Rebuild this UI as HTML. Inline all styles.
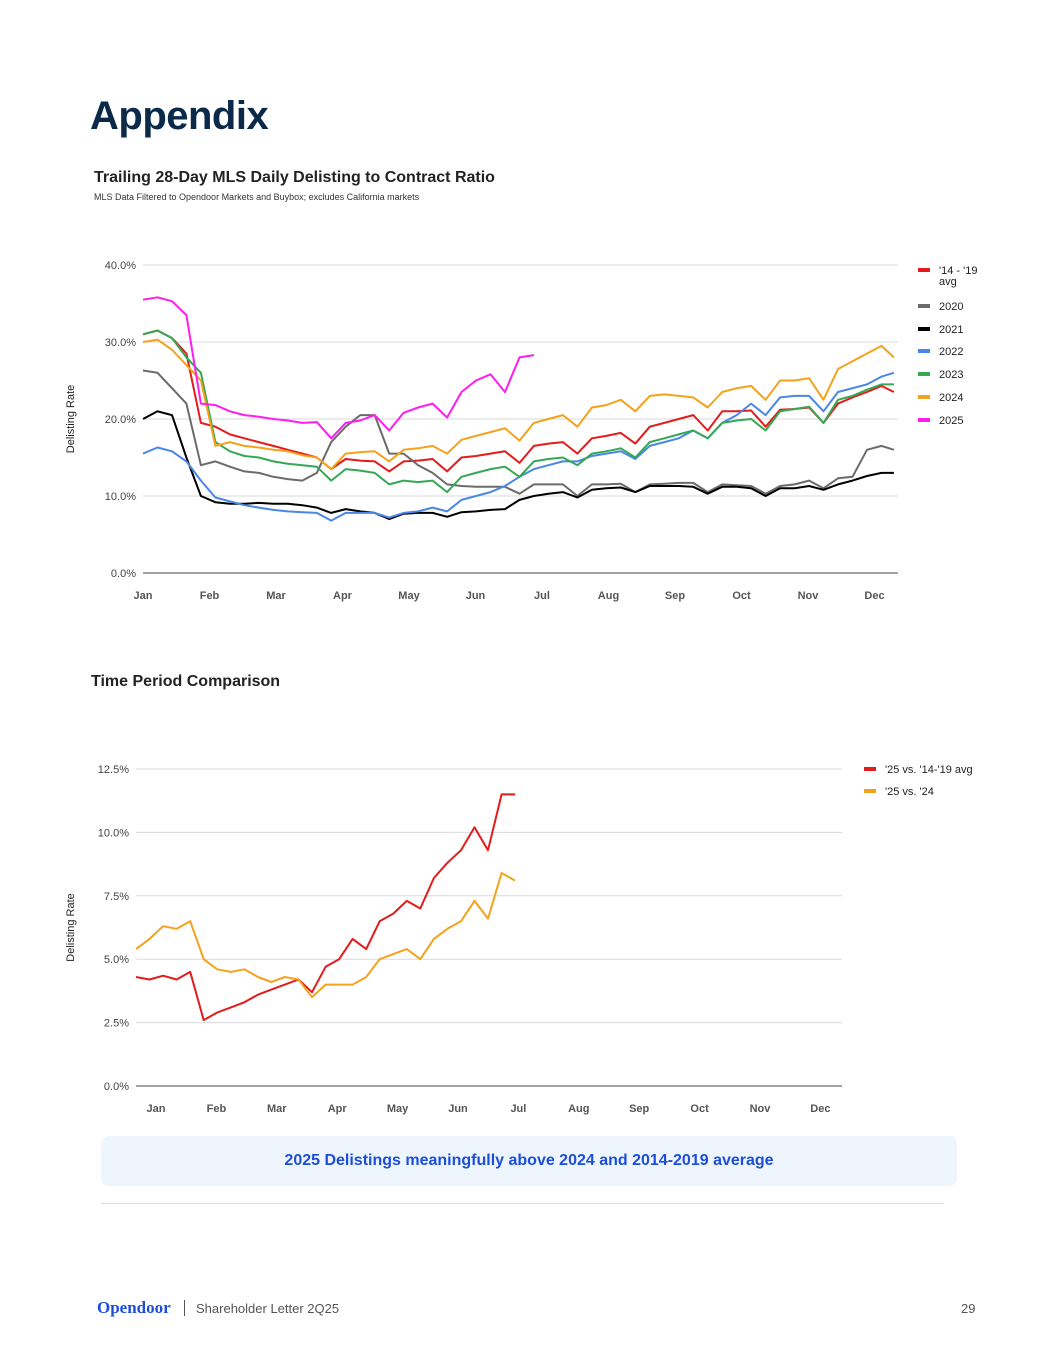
<!DOCTYPE html>
<html><head><meta charset="utf-8">
<style>
body{margin:0;background:#fff;font-family:"Liberation Sans",sans-serif;}
#page{position:relative;width:1055px;height:1365px;overflow:hidden;background:#fff;}
.abs{position:absolute;}
</style></head>
<body>
<div id="page">
<div class="abs" style="left:90px;top:94px;font-size:40px;font-weight:bold;color:#0b2a4a;letter-spacing:-0.5px;">Appendix</div>
<div class="abs" style="left:94px;top:169px;font-size:16px;font-weight:bold;color:#222;">Trailing 28-Day MLS Daily Delisting to Contract Ratio</div>
<div class="abs" style="left:94px;top:192px;font-size:9px;color:#333;">MLS Data Filtered to Opendoor Markets and Buybox; excludes California markets</div>
<div class="abs" style="left:91px;top:673px;font-size:16px;font-weight:bold;color:#222;">Time Period Comparison</div>
<svg id="c1" class="abs" style="left:0;top:0" width="1055" height="640"></svg>
<svg id="c2" class="abs" style="left:0;top:700px" width="1055" height="430"></svg>
<div class="abs" style="left:101px;top:1136px;width:856px;height:50px;background:#eef5fd;border-radius:8px;text-align:center;line-height:50px;font-size:16px;font-weight:bold;color:#1d4ed8;">2025 Delistings meaningfully above 2024 and 2014-2019 average</div>
<div class="abs" style="left:101px;top:1203px;width:843px;height:1px;background:#ddd;"></div>
<div class="abs" style="left:97px;top:1298px;font-family:'Liberation Serif',serif;font-weight:bold;font-size:17px;color:#1d4ed8;">Opendoor</div>
<div class="abs" style="left:184px;top:1300px;width:1px;height:16px;background:#555;"></div>
<div class="abs" style="left:196px;top:1301px;font-size:13px;color:#555;">Shareholder Letter 2Q25</div>
<div class="abs" style="left:961px;top:1301px;font-size:13px;color:#555;">29</div>
</div>
<script>
const months=["Jan","Feb","Mar","Apr","May","Jun","Jul","Aug","Sep","Oct","Nov","Dec"];
const c1Ticks=[0,10,20,30,40];
const c1Names=["'14 - '19 avg","2020","2021","2022","2023","2024","2025"];
const sAvg=[31,31.5,30.5,28.5,19.5,19,18,17.5,17,16.5,16,15.5,15,13.5,14.8,14.6,14.5,13.2,14.5,14.6,14.8,13.2,15,15.2,15.5,15.8,14.3,16.5,16.8,17,15.5,17.5,17.8,18.2,16.8,19,19.5,20,20.5,18.5,21,21,21.1,19,21.2,21.3,21.5,19.5,22,22.8,23.5,24.3,23.5];
const s2020=[26.3,26,24,22,14,14.5,13.8,13.2,13,12.5,12.2,12,13,17,19,20.5,20.5,15.5,15.5,14,13,11.5,11.3,11.2,11.2,11.2,10.3,11.5,11.5,11.5,10,11.5,11.5,11.6,10.5,11.5,11.6,11.7,11.7,10.5,11.5,11.4,11.3,10.3,11.3,11.5,12,11,12.3,12.5,16,16.5,16];
const s2021=[20,21,20.5,15,10,9.2,9,9,9.1,9,9,8.8,8.5,7.8,8.3,8,7.8,7,7.7,7.8,7.8,7.3,7.9,8,8.2,8.3,9.5,10,10.3,10.5,9.8,10.8,11,11.1,10.5,11.3,11.3,11.3,11.2,10.3,11.2,11.2,11,10,11,11,11.3,10.8,11.5,12,12.6,13,13];
const s2022=[15.5,16.3,15.8,14.5,12,9.8,9.3,8.8,8.5,8.2,8,7.9,7.8,6.8,7.8,7.8,7.8,7.2,7.8,8,8.5,8,9.5,10,10.5,11.3,12.5,13.5,14,14.5,14.5,15.2,15.5,15.8,14.8,16.5,17,17.5,18.5,17.5,19.5,20.5,22,20.5,22.8,23,23,21,23.5,24,24.5,25.5,26];
const s2023=[31,31.5,30.5,28,26,17,15.8,15.2,15,14.5,14.2,14,13.8,12,13.5,13.3,13,11.5,12,11.8,12,10.5,12.5,13,13.5,13.8,12.5,14.5,14.8,15,14,15.5,15.8,16.2,15,17,17.5,18,18.5,17.5,19.5,19.8,20,18.5,21,21.3,21.6,19.5,22.5,23,23.8,24.5,24.5];
const s2024=[30,30.3,29,27,25,16.5,17,16.5,16.3,16,15.8,15.3,15,13.5,15.5,15.7,15.8,14.5,16,16.2,16.5,15.5,17.3,17.8,18.3,18.8,17.2,19.5,20,20.5,19,21.5,21.8,22.5,21,23,23.2,23,22.8,21.5,23.5,24,24.3,22.5,25,25,25.3,22.5,26.5,27.5,28.5,29.5,28];
const s2025=[35.5,35.8,35.3,33.5,22,21.8,21,20.5,20.3,20,19.8,19.5,19.6,17.5,19.5,19.8,20.5,18.5,20.8,21.5,22,20.2,23.5,25,25.8,23.5,28,28.3];
const c1Series=[sAvg,s2020,s2021,s2022,s2023,s2024,s2025];
const c1Colors=["#e31b1b","#6b6b6b","#000000","#4a86e8","#34a853","#f4a21c","#ff1cf0"];
const c2Ticks=[0,2.5,5,7.5,10,12.5];
const c2TickLabels=["0.0%","2.5%","5.0%","7.5%","10.0%","12.5%"];
const c2Names=["'25 vs. '14-'19 avg","'25 vs. '24"];
const vsAvg=[4.3,4.2,4.35,4.2,4.5,2.6,2.9,3.1,3.3,3.6,3.8,4.0,4.2,3.7,4.7,5.0,5.8,5.4,6.5,6.8,7.3,7.0,8.2,8.8,9.3,10.2,9.3,11.5,11.5];
const vs24=[5.4,5.8,6.3,6.2,6.5,5.0,4.6,4.5,4.6,4.3,4.1,4.3,4.2,3.5,4.0,4.0,4.0,4.3,5.0,5.2,5.4,5.0,5.8,6.2,6.5,7.3,6.6,8.4,8.1];
const c2Series=[vsAvg,vs24];
const c2Colors=["#e31b1b","#f4a21c"];
const NS="http://www.w3.org/2000/svg";
function mk(svg,tag,attrs){const e=document.createElementNS(NS,tag);for(const k in attrs)e.setAttribute(k,attrs[k]);svg.appendChild(e);return e;}
function txt(svg,x,y,s,size,anchor,fill,weight){const t=mk(svg,"text",{x:x,y:y,"font-size":size,"text-anchor":anchor,fill:fill,"font-family":"Liberation Sans, sans-serif","font-weight":weight||"normal"});t.textContent=s;return t;}
function chart(svg,o){
  const xS=d=>o.x0+d*(o.x1-o.x0)/365;
  const yS=v=>o.y0-(v/o.vmax)*(o.y0-o.y1);
  o.ticks.forEach((t,i)=>{
    const g=mk(svg,"line",{x1:o.x0,x2:o.x1,y1:yS(t),y2:yS(t),stroke:t===0?"#444":"#d9d9d9","stroke-width":1});
    
    
    const l=txt(svg,o.x0-7,yS(t)+4,o.tickLabels[i],11,"end","#444");
    
    
  });
  months.forEach((m,i)=>{
    const l=txt(svg,o.mx0+i*o.mdx,o.y0+26,m,11,"middle","#555","bold");
    
    
  });
  const yt=txt(svg,0,0,"Delisting Rate",11,"middle","#222");
  yt.setAttribute("transform","translate("+o.ytx+","+((o.y0+o.y1)/2)+") rotate(-90)");
  
  
  o.series.forEach((s,si)=>{
    const pts=s.map((v,i)=>xS(Math.min(i*7,363)).toFixed(1)+","+yS(v).toFixed(1)).join(" ");
    const p=mk(svg,"polyline",{points:pts,fill:"none",stroke:o.colors[si],"stroke-width":2,"stroke-linejoin":"round"});
    
    
  });
  o.names.forEach((n,i)=>{
    const y=o.ly[i];
    const r=mk(svg,"rect",{x:o.lx,y:y-2,width:12,height:4,fill:o.colors[i]});
    
    
    const parts=n==="'14 - '19 avg"?["'14 - '19","avg"]:[n];
    parts.forEach((p,j)=>{
      const t=txt(svg,o.lx+21,y+4+j*11,p,11,"start","#222");
      
      
    });
  });
}
chart(document.getElementById("c1"),{x0:143,x1:898,y0:573,y1:265,vmax:40,ticks:c1Ticks,tickLabels:c1Ticks.map(t=>t.toFixed(1)+"%"),mx0:143,mdx:66.5,ytx:74,series:c1Series,colors:c1Colors,names:c1Names,lx:918,ly:[270,306,329,351,374,397,420]});
chart(document.getElementById("c2"),{x0:136,x1:842,y0:386,y1:69,vmax:12.5,ticks:c2Ticks,tickLabels:c2TickLabels,mx0:156,mdx:60.4,ytx:74,series:c2Series,colors:c2Colors,names:c2Names,lx:864,ly:[69,91]});
</script>
</body></html>
